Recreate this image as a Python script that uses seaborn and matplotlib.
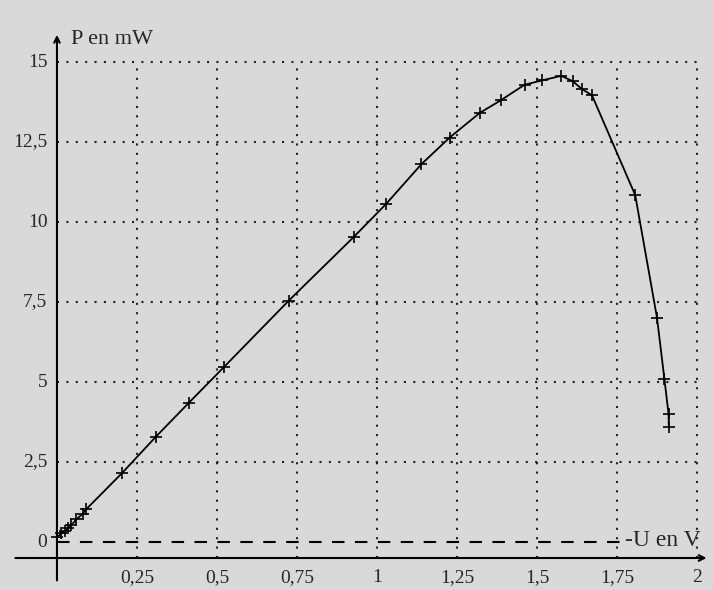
import numpy as np
import pandas as pd
import matplotlib
matplotlib.use('Agg')
import matplotlib.pyplot as plt
import seaborn as sns

U = [0.0, 0.014, 0.024, 0.036, 0.045, 0.061, 0.080, 0.091, 0.203, 0.309,
     0.412, 0.521, 0.724, 0.927, 1.027, 1.139, 1.227, 1.321, 1.386, 1.461,
     1.517, 1.576, 1.612, 1.640, 1.672, 1.807, 1.875, 1.898, 1.911, 1.912]
P = [0.15, 0.27, 0.34, 0.43, 0.53, 0.71, 0.88, 1.02, 2.15, 3.29,
     4.35, 5.46, 7.54, 9.53, 10.55, 11.81, 12.64, 13.41, 13.80, 14.29,
     14.43, 14.57, 14.40, 14.16, 13.96, 10.84, 7.01, 5.11, 4.01, 3.60]

x_ticks = [0.25, 0.5, 0.75, 1, 1.25, 1.5, 1.75, 2]
x_labels = ['0,25', '0,5', '0,75', '1', '1,25', '1,5', '1,75', '2']
y_ticks = [0, 2.5, 5, 7.5, 10, 12.5, 15]
y_labels = ['0', '2,5', '5', '7,5', '10', '12,5', '15']

df = pd.DataFrame({'U': U, 'P': P})

sns.set_style('white')
plt.rcParams['font.family'] = ['Liberation Serif', 'DejaVu Serif']

bg = '#d9d9d9'
fig = plt.figure(figsize=(7.13, 5.9), dpi=100, facecolor=bg)
ax = fig.add_axes([0, 0, 1, 1])
ax.set_facecolor(bg)
ax.set_xlim(-0.178, 2.05)
ax.set_ylim(-1.5, 16.94)
ax.axis('off')

axis_y = -0.5  # position de l'axe des abscisses

# quadrillage pointillé
ax.vlines(x_ticks, axis_y, 15, colors='#222222', linestyles=(0, (1, 3.5)), linewidth=1.5)
ax.hlines(y_ticks[1:], 0, 2, colors='#222222', linestyles=(0, (1, 3.5)), linewidth=1.5)
# ligne P = 0
ax.hlines(0, 0, 1.77, colors='black', linestyles=(0, (6, 5)), linewidth=1.5)

# axes fléchés
ax.annotate('', xy=(2.03, axis_y), xytext=(-0.13, axis_y),
            arrowprops=dict(arrowstyle='->', color='black', lw=1.5, shrinkA=0, shrinkB=0))
ax.annotate('', xy=(0, 15.85), xytext=(0, -1.2),
            arrowprops=dict(arrowstyle='->', color='black', lw=1.5, shrinkA=0, shrinkB=0))

# courbe
sns.lineplot(data=df, x='U', y='P', ax=ax, color='black', linewidth=1.3,
             marker='+', markersize=9, markeredgewidth=1.2,
             markeredgecolor='black', sort=False)

# graduations
for xv, lab in zip(x_ticks, x_labels):
    ax.text(xv, -1.1, lab, ha='center', va='center', fontsize=14)
for yv, lab in zip(y_ticks, y_labels):
    ax.text(-0.03, yv, lab, ha='right', va='center', fontsize=14)

ax.text(0.045, 15.7, 'P en mW', ha='left', va='center', fontsize=16)
ax.text(1.775, 0.05, '-U en V', ha='left', va='center', fontsize=17)

plt.savefig('out.png', dpi=100, facecolor=bg)
plt.close()
